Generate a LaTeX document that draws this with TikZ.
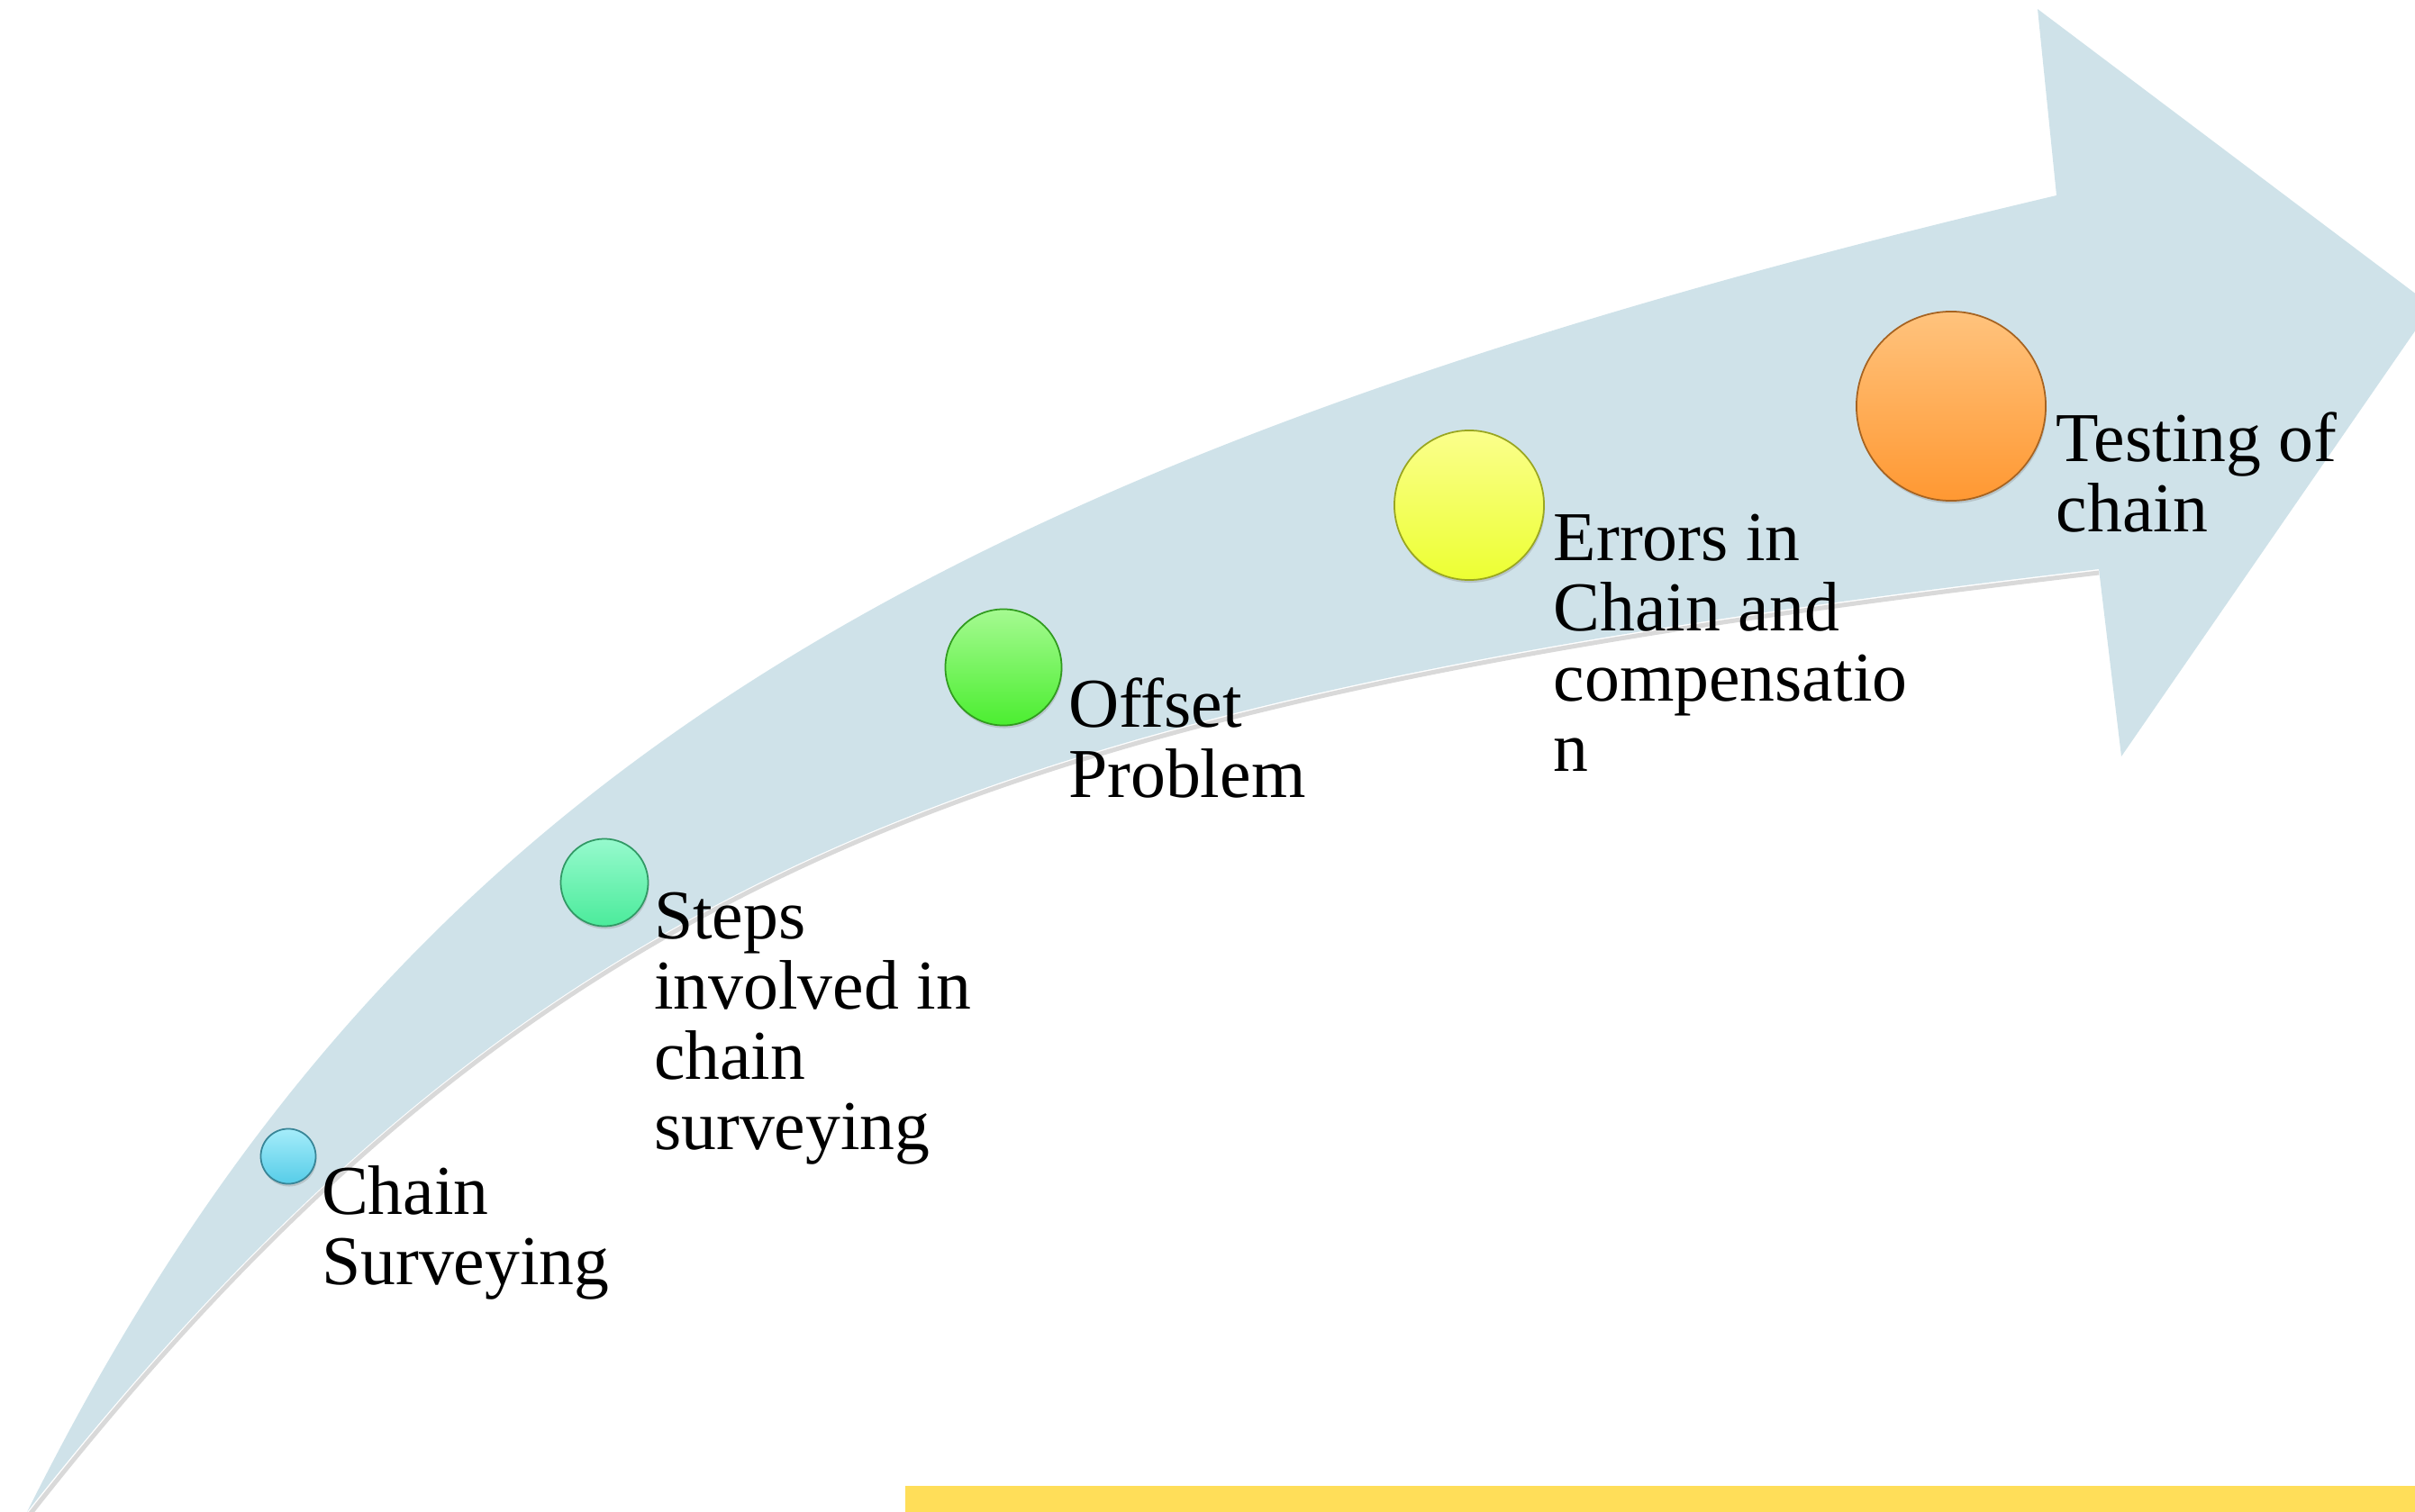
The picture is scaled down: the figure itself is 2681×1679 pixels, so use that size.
\documentclass[tikz,border=0pt]{standalone}
\usepackage{fontspec}
\setmainfont{Liberation Serif}
\usetikzlibrary{positioning,shadows}
\definecolor{bandblue}{RGB}{207,226,233}
\definecolor{baryellow}{RGB}{255,222,89}
\definecolor{cyanTop}{RGB}{165,236,250}
\definecolor{cyanBot}{RGB}{86,205,232}
\definecolor{mintTop}{RGB}{150,250,205}
\definecolor{mintBot}{RGB}{75,235,155}
\definecolor{limeTop}{RGB}{165,250,145}
\definecolor{limeBot}{RGB}{75,238,48}
\definecolor{lemonTop}{RGB}{251,255,140}
\definecolor{lemonBot}{RGB}{236,255,50}
\definecolor{peachTop}{RGB}{255,195,125}
\definecolor{peachBot}{RGB}{255,152,50}

\begin{document}
\begin{tikzpicture}[x=0.01cm, y=-0.01cm,
    bead/.style={circle, inner sep=0pt, line width=0.5pt,
        top color=#1Top, bottom color=#1Bot, draw=#1Bot!65!black,
        drop shadow={shadow xshift=0.01cm, shadow yshift=-0.03cm, opacity=0.3}},
    lbl/.style={inner sep=0pt, align=left, text=black,
        font=\fontsize{22.1}{22.2}\selectfont}]
    \useasboundingbox (0,0) rectangle (2681,1679);
    \clip (0,0) rectangle (2681,1679);
    % Curved arrow
    \fill[bandblue] (30,1679) .. controls (425,888) and (989,522) .. (2283,217)
        -- (2262,10) -- (2700,340) -- (2355,840) -- (2330,632)
        .. controls (1111,775) and (604,951) .. (30,1679) -- cycle;
    % soft shadow under the lower edge
    \draw[black, opacity=0.15, line width=0.05cm] (2330,636) .. controls (1111,779) and (604,955) .. (32,1683);
    % Yellow bar
    \fill[baryellow] (1005,1650) rectangle (2681,1679);
    % Beads
    \node[bead=cyan, minimum size=0.61cm] (c1) at (320,1284) {};
    \node[bead=mint, minimum size=0.97cm] (c2) at (671,980) {};
    \node[bead=lime, minimum size=1.29cm] (c3) at (1114,741) {};
    \node[bead=lemon, minimum size=1.66cm] (c4) at (1631,561) {};
    \node[bead=peach, minimum size=2.10cm] (c5) at (2166,451) {};
    % Labels
    \node[lbl, below right=0.10cm and 0.05cm of c1.east] (t1) {Chain\\Surveying};
    \node[lbl, below right=0.10cm and 0.05cm of c2.east] (t2) {Steps\\involved in\\chain\\surveying};
    \node[lbl, below right=0.11cm and 0.06cm of c3.east] (t3) {Offset\\Problem};
    \node[lbl, below right=0.09cm and 0.09cm of c4.east] (t4) {Errors in\\Chain and\\compensatio\\n};
    \node[lbl, below right=0.06cm and 0.10cm of c5.east] (t5) {Testing of\\chain};
\end{tikzpicture}
\end{document}
